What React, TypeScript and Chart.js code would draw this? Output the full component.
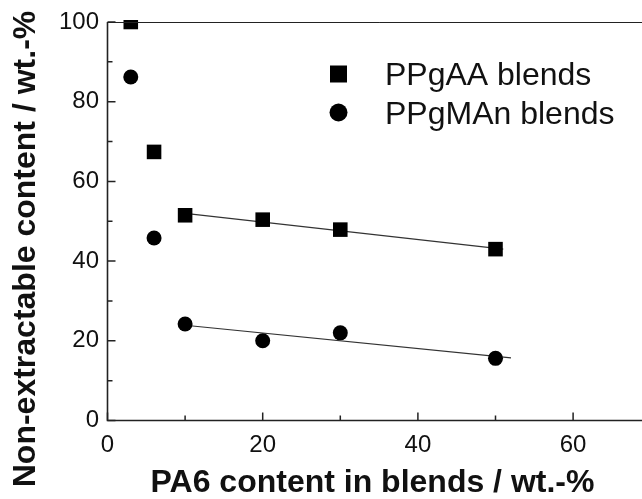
import React, { useEffect, useRef } from "react";
import { Chart, registerables } from "chart.js";

Chart.register(...registerables);

// ---- data ----
const AA_X = [3, 6, 10, 20, 30, 50];
const AA_Y = [100, 67.4, 51.5, 50.4, 47.9, 43.0];
const MAN_X = [3, 6, 10, 20, 30, 50];
const MAN_Y = [86.2, 45.8, 24.2, 20.0, 22.0, 15.6];
const AA_FIT_X = [10, 51];
const AA_FIT_Y = [52.0, 43.0];
const MAN_FIT_X = [10, 52];
const MAN_FIT_Y = [23.9, 15.7];
const X_TICKS = [0, 20, 40, 60];
const Y_TICKS = [0, 20, 40, 60, 80, 100];
const X_MINOR = [10, 30, 50];
const Y_MINOR = [10, 30, 50, 70, 90];
const X_MIN = 0;
const X_MAX = 70;
const Y_MIN = 0;
const Y_MAX = 100;
const LEGEND_LABELS = ["PPgAA blends", "PPgMAn blends"];
const X_TITLE = "PA6 content in blends / wt.-%";
const Y_TITLE = "Non-extractable content / wt.-%";

const FONT = "'Liberation Sans', Arial, Helvetica, sans-serif";

const pts = (xs: number[], ys: number[]) => xs.map((x, i) => ({ x, y: ys[i] }));

const framePlugin = {
  id: "frame",
  afterDraw(chart: any) {
    const { ctx, chartArea } = chart;
    const xs = chart.scales.x;
    const ys = chart.scales.y;
    const { left, right, top, bottom } = chartArea;
    ctx.save();
    ctx.strokeStyle = "#222";
    // axes
    ctx.lineWidth = 1.6;
    ctx.beginPath();
    ctx.moveTo(left, top);
    ctx.lineTo(left, bottom);
    ctx.lineTo(right, bottom);
    ctx.stroke();
    ctx.lineWidth = 1;
    ctx.beginPath();
    ctx.moveTo(left, top + 0.5);
    ctx.lineTo(right, top + 0.5);
    ctx.stroke();
    // ticks (inward)
    ctx.lineWidth = 1.5;
    ctx.beginPath();
    X_TICKS.forEach((v) => {
      const px = xs.getPixelForValue(v);
      ctx.moveTo(px, bottom);
      ctx.lineTo(px, bottom - 8);
    });
    X_MINOR.forEach((v) => {
      const px = xs.getPixelForValue(v);
      ctx.moveTo(px, bottom);
      ctx.lineTo(px, bottom - 5);
    });
    Y_TICKS.forEach((v) => {
      const py = ys.getPixelForValue(v);
      ctx.moveTo(left, py);
      ctx.lineTo(left + 8, py);
    });
    Y_MINOR.forEach((v) => {
      const py = ys.getPixelForValue(v);
      ctx.moveTo(left, py);
      ctx.lineTo(left + 5, py);
    });
    ctx.stroke();

    // titles
    ctx.fillStyle = "#111";
    ctx.font = `bold 32px ${FONT}`;
    ctx.textAlign = "center";
    ctx.textBaseline = "alphabetic";
    ctx.fillText(X_TITLE, 372.5, 492);
    ctx.save();
    ctx.translate(35, 249);
    ctx.rotate(-Math.PI / 2);
    ctx.fillText(Y_TITLE, 0, 0);
    ctx.restore();

    // legend
    ctx.fillStyle = "#000";
    ctx.beginPath();
    ctx.rect(338.5 - 8.5, 74 - 8.5, 17, 17);
    ctx.fill();
    ctx.beginPath();
    ctx.arc(338.5, 112.5, 9, 0, Math.PI * 2);
    ctx.fill();
    ctx.fillStyle = "#111";
    ctx.font = `32px ${FONT}`;
    ctx.textAlign = "left";
    ctx.fillText(LEGEND_LABELS[0], 385, 85);
    ctx.fillText(LEGEND_LABELS[1], 385, 124);
    ctx.restore();
  },
};

export default function App() {
  const ref = useRef<HTMLCanvasElement>(null);
  useEffect(() => {
    if (!ref.current) return;
    const chart = new Chart(ref.current, {
      type: "scatter",
      data: {
        datasets: [
          {
            label: LEGEND_LABELS[0],
            data: pts(AA_X, AA_Y),
            pointStyle: "rect",
            pointRadius: 10.3,
            backgroundColor: "#000",
            borderColor: "#000",
            borderWidth: 0,
            clip: { top: 2, left: false, right: false, bottom: false } as any,
          },
          {
            label: LEGEND_LABELS[1],
            data: pts(MAN_X, MAN_Y),
            pointStyle: "circle",
            pointRadius: 7.5,
            backgroundColor: "#000",
            borderColor: "#000",
            borderWidth: 0,
          },
          {
            type: "line" as any,
            label: "fit1",
            data: pts(AA_FIT_X, AA_FIT_Y),
            borderColor: "#333",
            borderWidth: 1.2,
            pointRadius: 0,
            showLine: true,
            fill: false,
          },
          {
            type: "line" as any,
            label: "fit2",
            data: pts(MAN_FIT_X, MAN_FIT_Y),
            borderColor: "#333",
            borderWidth: 1.2,
            pointRadius: 0,
            showLine: true,
            fill: false,
          },
        ],
      },
      options: {
        animation: false,
        responsive: false,
        layout: { padding: { top: 22, left: 0, right: 0, bottom: 0 } },
        plugins: { legend: { display: false }, tooltip: { enabled: false } },
        scales: {
          x: {
            type: "linear",
            min: X_MIN,
            max: X_MAX,
            grid: { display: false, drawTicks: false },
            border: { display: false },
            afterBuildTicks: (s: any) => {
              s.ticks = X_TICKS.map((v) => ({ value: v }));
            },
            afterFit: (s: any) => {
              s.height = 78.5;
              s.paddingRight = 0;
              s.paddingLeft = 0;
            },
            ticks: {
              autoSkip: false,
              maxRotation: 0,
              padding: 10,
              color: "#111",
              font: { family: FONT, size: 24 },
            },
          },
          y: {
            type: "linear",
            min: Y_MIN,
            max: Y_MAX,
            grid: { display: false, drawTicks: false },
            border: { display: false },
            afterBuildTicks: (s: any) => {
              s.ticks = Y_TICKS.map((v) => ({ value: v }));
            },
            afterFit: (s: any) => {
              s.width = 107.5;
              s.paddingTop = 0;
              s.paddingBottom = 0;
            },
            ticks: {
              autoSkip: false,
              padding: 8.5,
              color: "#111",
              font: { family: FONT, size: 24 },
            },
          },
        },
      },
      plugins: [framePlugin],
    });
    return () => chart.destroy();
  }, []);
  return (
    <div style={{ position: "fixed", left: 0, top: 0, width: 642, height: 499, overflow: "hidden", background: "#fff" }}>
      <canvas ref={ref} width={661} height={499} style={{ display: "block" }} />
    </div>
  );
}
